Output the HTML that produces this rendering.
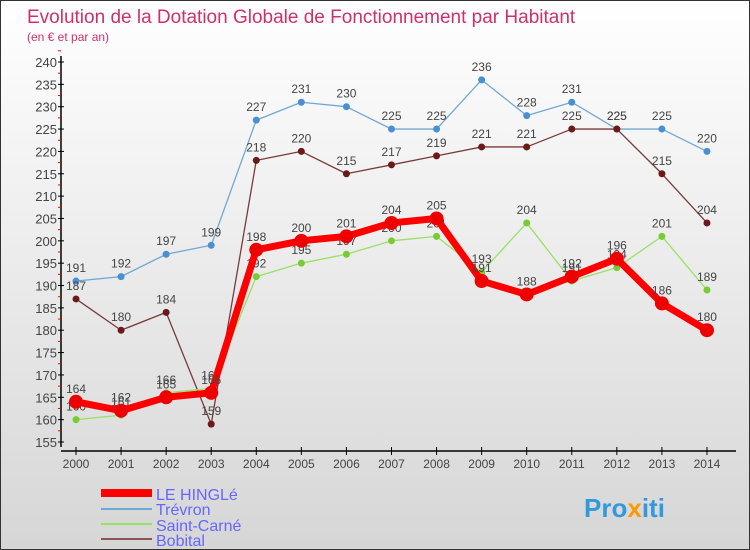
<!DOCTYPE html>
<html><head><meta charset="utf-8"><style>
body{margin:0}
#wrap{width:750px;height:550px;position:relative;background:linear-gradient(#ffffff,#d6d6d6);box-sizing:border-box;border:1px solid #333;font-family:"Liberation Sans",sans-serif;overflow:hidden}
</style></head><body>
<div id="wrap">
<svg id="c" width="750" height="550" style="position:absolute;left:0;top:0">
<text x="26" y="22" font-size="19" fill="#d0306a">Evolution de la Dotation Globale de Fonctionnement par Habitant</text>
<text x="26" y="40" font-size="12" fill="#d0306a">(en € et par an)</text>
<g id="axes"></g><g id="series"></g>
<g>
<line x1="100" y1="492" x2="151" y2="492" stroke="#f00" stroke-width="8"/>
<text x="155" y="499" font-size="16" fill="#6666ff">LE HINGLé</text>
<line x1="100" y1="508" x2="151" y2="508" stroke="#6fa8d6" stroke-width="2"/>
<text x="155" y="514" font-size="16" fill="#6666ff">Trévron</text>
<line x1="100" y1="523" x2="151" y2="523" stroke="#99e066" stroke-width="2"/>
<text x="155" y="530" font-size="16" fill="#6666ff">Saint-Carné</text>
<line x1="100" y1="538" x2="151" y2="538" stroke="#8b5555" stroke-width="2"/>
<text x="155" y="545" font-size="16" fill="#6666ff">Bobital</text>
</g>
<text x="583" y="516" font-size="26" font-weight="bold" fill="#3399dd">Pro<tspan fill="#ff9900">x</tspan>iti</text>
</svg>
</div>
<script>
const years=[2000,2001,2002,2003,2004,2005,2006,2007,2008,2009,2010,2011,2012,2013,2014];
const leHingle=[164,162,165,166,198,200,201,204,205,191,188,192,196,186,180];
const trevron=[191,192,197,199,227,231,230,225,225,236,228,231,225,225,220];
const saintCarne=[160,161,166,167,192,195,197,200,201,193,204,191,194,201,189];
const bobital=[187,180,184,159,218,220,215,217,219,221,221,225,225,215,204];
const yTicks=[155,160,165,170,175,180,185,190,195,200,205,210,215,220,225,230,235,240];
const NS="http://www.w3.org/2000/svg";
const X=i=>75+i*45.07;
const Y=v=>61+(240-v)*380/85;
function mk(t,a,p){const e=document.createElementNS(NS,t);for(const k in a)e.setAttribute(k,a[k]);p.appendChild(e);return e;}
const ax=document.getElementById('axes');
let l=mk('line',{x1:60,y1:55,x2:60,y2:446,stroke:'#000','stroke-width':1.5},ax);


l=mk('line',{x1:60,y1:450,x2:735,y2:450,stroke:'#000','stroke-width':1.5},ax);


yTicks.forEach(v=>{
 const t=mk('line',{x1:57,x2:63,y1:Y(v),y2:Y(v),stroke:'#000'},ax);
 
 
 const m=mk('line',{x1:57,x2:60,y1:Y(v+2.5),y2:Y(v+2.5),stroke:'#f00'},ax);
 
 
 const s=mk('text',{x:56,y:Y(v)+5,'text-anchor':'end','font-size':13,fill:'#444'},ax);
 s.textContent=v;
 
 
});
years.forEach((y,i)=>{
 const t=mk('line',{x1:X(i),x2:X(i),y1:446,y2:454,stroke:'#000'},ax);
 
 
 const s=mk('text',{x:X(i),y:467,'text-anchor':'middle','font-size':12,fill:'#444'},ax);
 s.textContent=y;
 
 
});
const sg=document.getElementById('series');
function draw(vals,name,col,w,r,ptcol){
 const g=mk('g',{},sg);
 
 
 const p=mk('polyline',{points:vals.map((v,i)=>X(i)+','+Y(v)).join(' '),fill:'none',stroke:col,'stroke-width':w,'stroke-linejoin':'round'},g);
 
 
 vals.forEach((v,i)=>{
  const c=mk('circle',{cx:X(i),cy:Y(v),r:r,fill:ptcol},g);
  
  
  const s=mk('text',{x:X(i),y:Y(v)-9,'text-anchor':'middle','font-size':12,fill:'#444'},g);
  s.textContent=v;
  
  
 });
}
draw(trevron,'trevron','#6fa8d6',1.3,3.5,'#4a90d0');
draw(bobital,'bobital','#7a3a3a',1.3,3.5,'#6b1a1a');
draw(saintCarne,'saint-carne','#99e066',1.3,3.5,'#77cc33');
draw(leHingle,'le-hingle','#ff0000',7,7,'#ee0000');
</script>
</body></html>
